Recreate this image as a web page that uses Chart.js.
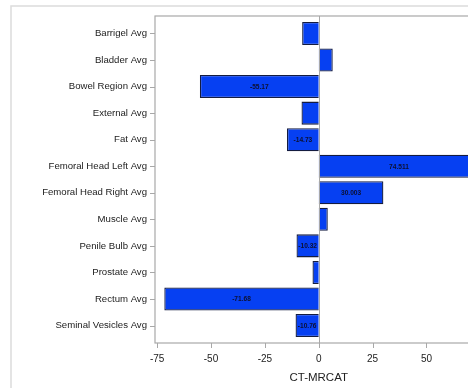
<!DOCTYPE html>
<html>
<head>
<meta charset="utf-8">
<script src="https://cdn.jsdelivr.net/npm/chart.js@4.4.1/dist/chart.umd.min.js"></script>
<style>
  html, body { margin: 0; padding: 0; background: #fff; overflow: hidden; }
  #wrap { position: relative; width: 500px; height: 388px; }
</style>
</head>
<body>
<div id="wrap"><canvas id="c" width="500" height="388"></canvas></div>
<script>
const categories = [
  'Barrigel Avg', 'Bladder Avg', 'Bowel Region Avg', 'External Avg', 'Fat Avg',
  'Femoral Head Left Avg', 'Femoral Head Right Avg', 'Muscle Avg', 'Penile Bulb Avg',
  'Prostate Avg', 'Rectum Avg', 'Seminal Vesicles Avg'
];
const values = [-7.7, 6.5, -55.17, -8.0, -14.73, 74.511, 30.003, 4.2, -10.32, -2.9, -71.68, -10.76];
const valueLabels = ['', '', '-55.17', '', '-14.73', '74.511', '30.003', '', '-10.32', '', '-71.68', '-10.76'];
const xTicks = [-75, -50, -25, 0, 25, 50, 75];
const xTitle = 'CT-MRCAT';

const FRAME_EXT = 4.2;
const AXIS_GREY = '#a8a8a8';
const FONT = '"Liberation Sans", Arial, sans-serif';

const framePlugin = {
  id: 'frame',
  beforeDraw(chart) {
    const ctx = chart.ctx;
    ctx.save();
    ctx.strokeStyle = '#dcdcdc';
    ctx.lineWidth = 1.5;
    ctx.beginPath();
    ctx.moveTo(11, 400);
    ctx.lineTo(11, 6);
    ctx.lineTo(520, 6);
    ctx.stroke();
    ctx.restore();
  },
  afterDatasetsDraw(chart) {
    const ctx = chart.ctx;
    const a = chart.chartArea;
    const xs = chart.scales.x, ys = chart.scales.y;
    const top = a.top - FRAME_EXT, bottom = a.bottom + FRAME_EXT;
    ctx.save();
    ctx.font = 'bold 6.6px ' + FONT;
    ctx.fillStyle = '#0d1030';
    ctx.textAlign = 'center';
    ctx.textBaseline = 'middle';
    chart.getDatasetMeta(0).data.forEach((bar, i) => {
      if (!valueLabels[i]) return;
      ctx.fillText(valueLabels[i], (bar.x + bar.base) / 2, bar.y + 0.5);
    });
    ctx.strokeStyle = AXIS_GREY;
    ctx.lineWidth = 1;
    const x0 = Math.round(xs.getPixelForValue(0)) + 0.5;
    ctx.beginPath();
    ctx.moveTo(x0, top);
    ctx.lineTo(x0, bottom);
    ctx.stroke();
    ctx.lineWidth = 1.2;
    ctx.strokeRect(a.left, top, a.right - a.left, bottom - top);
    ctx.lineWidth = 1;
    ys.ticks.forEach((t, i) => {
      const y = Math.round(ys.getPixelForTick(i)) + 0.5;
      ctx.beginPath();
      ctx.moveTo(a.left - 5, y);
      ctx.lineTo(a.left, y);
      ctx.stroke();
    });
    xs.ticks.forEach((t) => {
      const x = Math.round(xs.getPixelForValue(t.value)) + 0.5;
      ctx.beginPath();
      ctx.moveTo(x, bottom);
      ctx.lineTo(x, bottom + 5);
      ctx.stroke();
    });
    ctx.restore();
  }
};

new Chart(document.getElementById('c'), {
  type: 'bar',
  data: {
    labels: categories,
    datasets: [{
      data: values,
      backgroundColor: '#0640f2',
      borderColor: '#141c40',
      borderWidth: 1.3,
      categoryPercentage: 1,
      barPercentage: 0.87
    }]
  },
  options: {
    indexAxis: 'y',
    responsive: false,
    devicePixelRatio: 1,
    animation: false,
    layout: { padding: { top: 16 + FRAME_EXT, right: 17, left: 0, bottom: 0 } },
    plugins: { legend: { display: false }, tooltip: { enabled: false } },
    scales: {
      x: {
        type: 'linear',
        min: -76,
        max: 76,
        afterBuildTicks(scale) { scale.ticks = xTicks.map(v => ({ value: v })); },
        afterFit(scale) { scale.height = 388 - 343 + FRAME_EXT; },
        grid: { display: false, drawTicks: false },
        border: { display: false },
        ticks: {
          padding: 14,
          color: '#222',
          font: { family: FONT, size: 10 },
          maxRotation: 0,
          autoSkip: false
        },
        title: {
          display: true,
          text: xTitle,
          color: '#222',
          font: { family: FONT, size: 11.5 },
          padding: { top: 0, bottom: 3 }
        }
      },
      y: {
        type: 'category',
        offset: true,
        afterFit(scale) { scale.width = 155; },
        grid: { display: false, drawTicks: false },
        border: { display: false },
        ticks: {
          padding: 8,
          color: '#222',
          font: { family: FONT, size: 9.6 },
          autoSkip: false
        }
      }
    }
  },
  plugins: [framePlugin]
});
</script>
</body>
</html>
